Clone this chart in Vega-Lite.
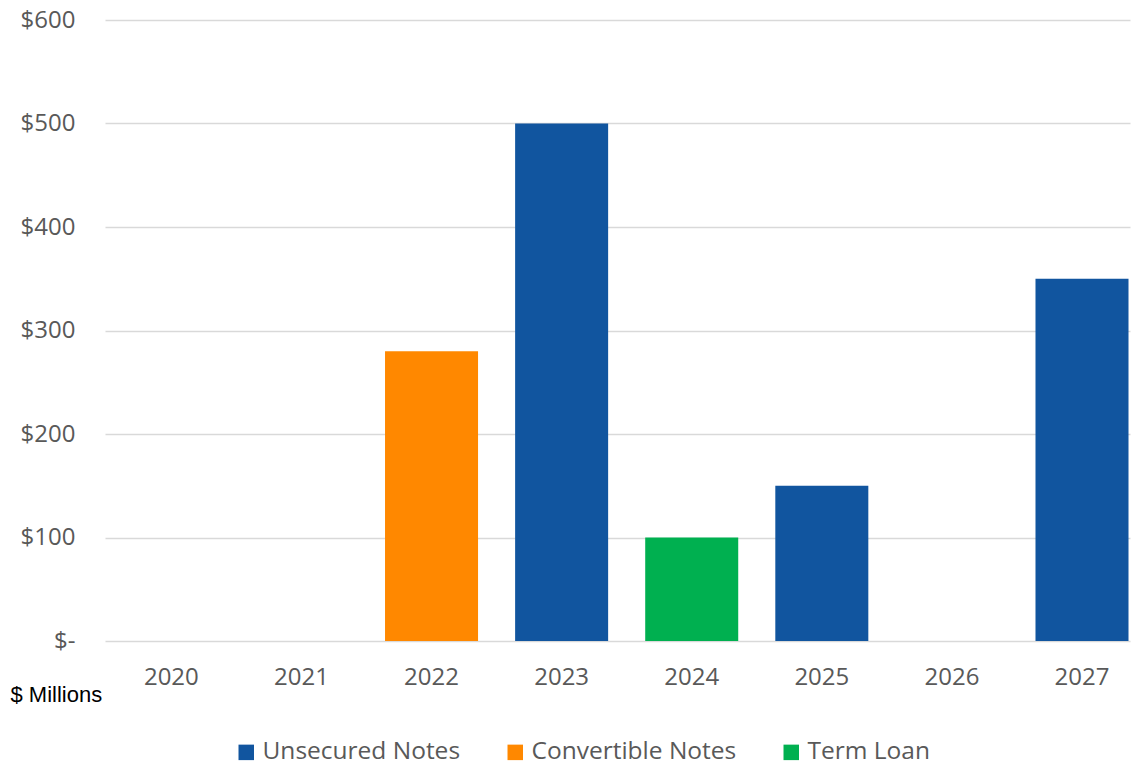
{
  "$schema": "https://vega.github.io/schema/vega-lite/v6.json",
  "autosize": "none",
  "width": 1025,
  "height": 621,
  "padding": {"left": 105, "top": 20, "right": 5, "bottom": 124},
  "background": "white",
  "data": {
    "values": [
      {"year": "2020", "type": "Unsecured Notes", "amount": 0},
      {"year": "2021", "type": "Unsecured Notes", "amount": 0},
      {"year": "2022", "type": "Convertible Notes", "amount": 280},
      {"year": "2023", "type": "Unsecured Notes", "amount": 500},
      {"year": "2024", "type": "Term Loan", "amount": 100},
      {"year": "2025", "type": "Unsecured Notes", "amount": 150},
      {"year": "2026", "type": "Unsecured Notes", "amount": 0},
      {"year": "2027", "type": "Unsecured Notes", "amount": 350}
    ]
  },
  "mark": {"type": "bar"},
  "encoding": {
    "x": {
      "field": "year",
      "type": "ordinal",
      "scale": {"paddingInner": 0.285, "paddingOuter": 0.082, "align": 0.93},
      "axis": {
        "title": "$ Millions",
        "titleX": -95,
        "titleY": 43,
        "titleAlign": "left",
        "titleBaseline": "top",
        "titleAnchor": null,
        "titleFont": "Liberation Sans",
        "titleFontWeight": "normal",
        "titleFontSize": 22,
        "titleColor": "#000000",
        "labelAngle": 0,
        "labelFont": "Open Sans",
        "labelFontSize": 24,
        "labelColor": "#595959",
        "labelPadding": 24,
        "domain": false,
        "ticks": false,
        "grid": false
      }
    },
    "y": {
      "field": "amount",
      "type": "quantitative",
      "scale": {"domain": [0, 600]},
      "axis": {
        "title": null,
        "values": [0, 100, 200, 300, 400, 500, 600],
        "labelExpr": "datum.value == 0 ? '$-' : '$' + datum.value",
        "labelFont": "Open Sans",
        "labelFontSize": 24,
        "labelColor": "#595959",
        "labelPadding": 30,
        "domain": false,
        "ticks": false,
        "grid": true,
        "gridColor": "#d9d9d9",
        "gridWidth": 1.5
      }
    },
    "color": {
      "field": "type",
      "type": "nominal",
      "scale": {
        "domain": ["Unsecured Notes", "Convertible Notes", "Term Loan"],
        "range": ["#11559F", "#FF8800", "#00B050"]
      },
      "legend": {
        "title": null,
        "orient": "none",
        "direction": "horizontal",
        "legendX": 129,
        "legendY": 720,
        "symbolType": "square",
        "symbolSize": 240,
        "symbolStrokeWidth": 0,
        "labelFont": "Open Sans",
        "labelFontSize": 24.5,
        "labelColor": "#595959",
        "labelLimit": 0,
        "labelOffset": 4,
        "columnPadding": 42,
        "encode": {
          "symbols": {
            "update": {
              "fill": {"signal": "datum.value === 'Unsecured Notes' ? '#4472C4' : scale('color', datum.value)"}
            }
          }
        }
      }
    }
  },
  "config": {"view": {"stroke": null}}
}
